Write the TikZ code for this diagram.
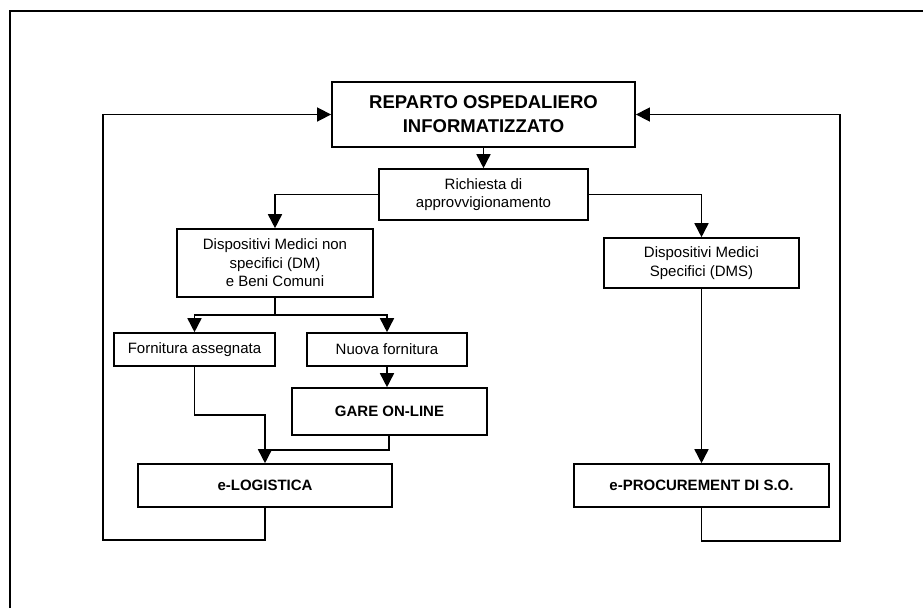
\documentclass[tikz,border=0pt]{standalone}
\usepackage{fontspec}
\setmainfont{Liberation Sans}
\usetikzlibrary{arrows.meta}
\tikzset{
  box/.style={draw, line width=1.6pt, align=center, inner sep=0pt, font=\fontsize{15}{18.5}\selectfont},
  bbox/.style={box, font=\fontsize{15}{18.5}\selectfont\bfseries},
  tbox/.style={box, line width=1.8pt, font=\fontsize{18.5}{24}\selectfont\bfseries},
  conn/.style={line width=1.6pt},
  arr/.style={conn, -{Triangle[length=14pt,width=14pt]}}
}
\begin{document}
\begin{tikzpicture}[x=1pt,y=-1pt]
\useasboundingbox (0,0) rectangle (923,608);
\draw[line width=2pt] (10,608) -- (10,11) -- (923,11);

\node[tbox, minimum width=303pt, minimum height=65pt] (rep) at (483.5,114.5) {REPARTO OSPEDALIERO\\INFORMATIZZATO};
\node[box, minimum width=209pt, minimum height=51pt] (rich) at (483.5,194.5) {Richiesta di\\approvvigionamento};
\node[box, minimum width=196pt, minimum height=68pt] (dm) at (275,263) {Dispositivi Medici non\\specifici (DM)\\e Beni Comuni};
\node[box, minimum width=195pt, minimum height=50pt] (dms) at (701.5,263) {Dispositivi Medici\\Specifici (DMS)};
\node[box, minimum width=161pt, minimum height=33pt] (fa) at (194.5,349.5) {Fornitura assegnata};
\node[box, minimum width=160pt, minimum height=33pt] (nf) at (387,349.5) {Nuova fornitura};
\node[bbox, minimum width=195pt, minimum height=47pt] (gare) at (389.5,411.5) {GARE ON-LINE};
\node[bbox, minimum width=254pt, minimum height=43pt] (elog) at (265,485.5) {e-LOGISTICA};
\node[bbox, minimum width=255pt, minimum height=43pt] (eproc) at (701.5,485.5) {e-PROCUREMENT DI S.O.};

\coordinate (split) at (275,315);
\coordinate (fabend) at (194.5,415);
\coordinate (join) at (265,450);
\coordinate (garebend) at (389,450);
\coordinate (lbot) at (265,540);
\coordinate (lcorner) at (103,540);
\coordinate (ltop) at (103,114.5);
\coordinate (rbot) at (701.5,541);
\coordinate (rcorner) at (840,541);
\coordinate (rtop) at (840,114.5);

\draw[arr] (rep.south) -- (rich.north);
\draw[arr] (rich.west) -| (dm.north);
\draw[arr] (rich.east) -| (dms.north);
\draw[conn] (dm.south) -- (split);
\draw[arr] (split) -| (fa.north);
\draw[arr] (split) -| (nf.north);
\draw[arr] (nf.south) -- (nf.south |- gare.north);
\draw[arr] (fa.south) -- (fabend) -| (elog.north);
\draw[conn] (gare.south -| garebend) -- (garebend) -- (join);
\draw[arr] (elog.south) -- (lbot) -- (lcorner) -- (ltop) -- (rep.west);
\draw[arr] (dms.south) -- (eproc.north);
\draw[arr] (eproc.south) -- (rbot) -- (rcorner) -- (rtop) -- (rep.east);
\end{tikzpicture}
\end{document}
